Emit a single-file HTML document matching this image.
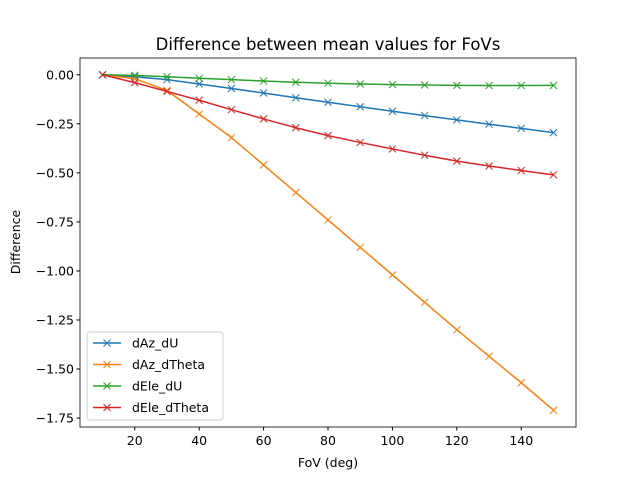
<!DOCTYPE html>
<html><head><meta charset="utf-8"><style>body{margin:0;background:#fff}svg{font-family:"DejaVu Sans","Liberation Sans",sans-serif}</style></head>
<body>
<svg id="c" width="640" height="480"></svg>
<script>
const categories=[10,20,30,40,50,60,70,80,90,100,110,120,130,140,150];
const dAzdU=[0,-0.01,-0.025,-0.047,-0.07,-0.093,-0.117,-0.14,-0.163,-0.186,-0.208,-0.23,-0.252,-0.273,-0.295];
const dAzdTheta=[0,-0.02,-0.08,-0.2,-0.32,-0.46,-0.6,-0.74,-0.88,-1.02,-1.16,-1.30,-1.435,-1.57,-1.71];
const dEledU=[0,-0.003,-0.01,-0.018,-0.025,-0.032,-0.038,-0.043,-0.047,-0.05,-0.052,-0.054,-0.055,-0.055,-0.054];
const dEledTheta=[0,-0.04,-0.085,-0.13,-0.178,-0.225,-0.27,-0.31,-0.345,-0.378,-0.41,-0.44,-0.465,-0.488,-0.51];
const xTicks=[20,40,60,80,100,120,140];
const yTicks=[0,-0.25,-0.5,-0.75,-1,-1.25,-1.5,-1.75];
const seriesNames=["dAz_dU","dAz_dTheta","dEle_dU","dEle_dTheta"];
const colors=["#1f77b4","#ff7f0e","#2ca02c","#d62728"];
const series=[dAzdU,dAzdTheta,dEledU,dEledTheta];
const L=80,R=576,T=58,B=427;
const all=series.flat();const ymax=Math.max(...all),ymin=Math.min(...all);
const xmin=Math.min(...categories),xmax=Math.max(...categories);
const xp=(xmax-xmin)*0.05,yp=(ymax-ymin)*0.05;
const X=v=>L+(v-(xmin-xp))/((xmax+xp)-(xmin-xp))*(R-L);
const Y=v=>T+((ymax+yp)-v)/((ymax+yp)-(ymin-yp))*(B-T);
const svg=document.getElementById('c');const NS="http://www.w3.org/2000/svg";
function mk(t,a,p){const e=document.createElementNS(NS,t);for(const k in a)e.setAttribute(k,a[k]);(p||svg).appendChild(e);return e;}
function txt(s,a,name){const e=mk('text',a);e.textContent=s;return e;}
txt("Difference between mean values for FoVs",{x:328,y:50,'text-anchor':'middle','font-size':16.5},'chart-title');
xTicks.forEach(v=>{const l=mk('line',{x1:X(v),x2:X(v),y1:B,y2:B+3.5,stroke:'#000'});
txt(String(v),{x:X(v),y:B+18,'text-anchor':'middle','font-size':12.5},'x-tick-label');});
yTicks.forEach(v=>{const l=mk('line',{x1:L-3.5,x2:L,y1:Y(v),y2:Y(v),stroke:'#000'});
txt(v.toFixed(2).replace('-','−'),{x:L-6,y:Y(v)+4.5,'text-anchor':'end','font-size':12.5},'y-tick-label');});
txt("FoV (deg)",{x:328,y:467,'text-anchor':'middle','font-size':12.5},'x-axis-title');
txt("Difference",{x:20,y:242,'text-anchor':'middle','font-size':12.5,transform:'rotate(-90 20 242)'},'y-axis-title');
series.forEach((s,i)=>{const g=mk('g',{});
mk('polyline',{points:s.map((v,j)=>X(categories[j])+','+Y(v)).join(' '),fill:'none',stroke:colors[i],'stroke-width':1.5},g);
s.forEach((v,j)=>{const x=X(categories[j]),y=Y(v);const p=mk('path',{d:`M${x-3.5},${y-3.5}L${x+3.5},${y+3.5}M${x-3.5},${y+3.5}L${x+3.5},${y-3.5}`,stroke:colors[i],'stroke-width':1},g);});});
const f=mk('rect',{x:L,y:T,width:R-L,height:B-T,fill:'none',stroke:'#000','stroke-width':0.8});
const lg=mk('g',{});
mk('rect',{x:87,y:332,width:136,height:88,rx:3,fill:'#fff','fill-opacity':0.8,stroke:'#ccc'},lg);
seriesNames.forEach((n,i)=>{const y=343+i*21.5;const e=mk('g',{},lg);
mk('line',{x1:93,x2:121,y1:y,y2:y,stroke:colors[i],'stroke-width':1.5},e);
mk('path',{d:`M103.5,${y-3.5}L110.5,${y+3.5}M103.5,${y+3.5}L110.5,${y-3.5}`,stroke:colors[i]},e);
const t=mk('text',{x:132,y:y+4.5,'font-size':12.5},e);t.textContent=n;});
</script>
</body></html>
